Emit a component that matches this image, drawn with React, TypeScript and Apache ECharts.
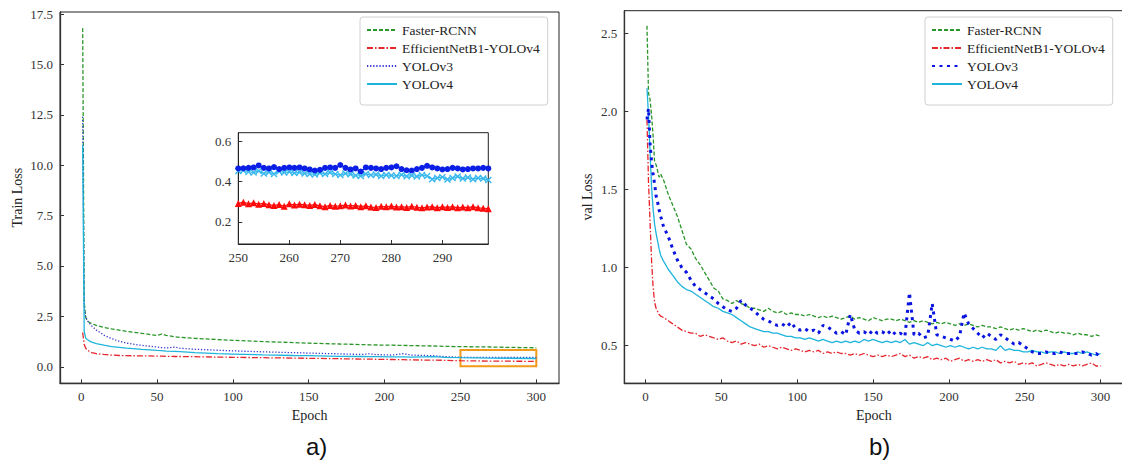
import React, { useEffect, useRef } from "react";
import * as echarts from "echarts";

// ---------- Left chart (train loss) ----------
const trainEpochs = [1, 2, 3, 4, 5, 7, 10, 15, 20, 25, 30, 40, 50, 53, 56, 62, 65, 75, 90, 100, 120, 140, 150, 170, 185, 190, 195, 205, 212, 218, 232, 240, 250, 270, 300];
const trainFaster = [16.8, 3.2, 2.45, 2.3, 2.22, 2.14, 2.05, 1.95, 1.88, 1.82, 1.75, 1.66, 1.55, 1.62, 1.56, 1.48, 1.46, 1.41, 1.35, 1.31, 1.25, 1.2, 1.17, 1.13, 1.1, 1.09, 1.08, 1.07, 1.06, 1.05, 1.03, 1.01, 1.0, 0.98, 0.94];
const trainEffB1 = [1.7, 1.1, 0.92, 0.84, 0.78, 0.7, 0.65, 0.61, 0.58, 0.56, 0.55, 0.54, 0.53, 0.53, 0.52, 0.51, 0.51, 0.5, 0.48, 0.47, 0.45, 0.43, 0.42, 0.4, 0.38, 0.38, 0.37, 0.36, 0.35, 0.34, 0.33, 0.32, 0.3, 0.28, 0.27];
const trainV3 = [12.4, 3.0, 2.45, 2.3, 2.2, 2.02, 1.82, 1.57, 1.4, 1.27, 1.17, 1.06, 0.98, 0.95, 0.93, 0.98, 0.92, 0.87, 0.82, 0.79, 0.74, 0.7, 0.68, 0.64, 0.61, 0.64, 0.6, 0.58, 0.65, 0.58, 0.55, 0.5, 0.47, 0.47, 0.46];
const trainV4 = [11.0, 1.75, 1.42, 1.35, 1.3, 1.22, 1.15, 1.07, 1.0, 0.96, 0.92, 0.86, 0.81, 0.8, 0.78, 0.76, 0.75, 0.7, 0.65, 0.63, 0.59, 0.56, 0.55, 0.52, 0.51, 0.5, 0.5, 0.49, 0.49, 0.48, 0.5, 0.47, 0.45, 0.43, 0.41];

const zoomBoxEpochs = [250, 300];
const zoomBoxLoss = [0.03, 0.83];

// ---------- Inset (epochs 250-299) ----------
const insetEpochs = [
  250, 251, 252, 253, 254, 255, 256, 257, 258, 259,
  260, 261, 262, 263, 264, 265, 266, 267, 268, 269,
  270, 271, 272, 273, 274, 275, 276, 277, 278, 279,
  280, 281, 282, 283, 284, 285, 286, 287, 288, 289,
  290, 291, 292, 293, 294, 295, 296, 297, 298, 299,
];
const insetV3 = [
  0.465, 0.466, 0.468, 0.470, 0.480, 0.468, 0.465, 0.472, 0.462, 0.468,
  0.470, 0.468, 0.470, 0.465, 0.460, 0.455, 0.458, 0.468, 0.470, 0.468,
  0.482, 0.468, 0.460, 0.465, 0.450, 0.470, 0.468, 0.465, 0.462, 0.468,
  0.470, 0.476, 0.462, 0.456, 0.455, 0.462, 0.468, 0.478, 0.470, 0.465,
  0.460, 0.462, 0.468, 0.465, 0.460, 0.462, 0.465, 0.465, 0.468, 0.465,
];
const insetV4 = [
  0.452, 0.455, 0.448, 0.445, 0.452, 0.440, 0.446, 0.438, 0.450, 0.445,
  0.448, 0.442, 0.446, 0.440, 0.438, 0.435, 0.442, 0.438, 0.445, 0.437,
  0.432, 0.440, 0.436, 0.430, 0.428, 0.438, 0.432, 0.435, 0.428, 0.433,
  0.430, 0.428, 0.434, 0.426, 0.430, 0.425, 0.432, 0.428, 0.412, 0.418,
  0.422, 0.410, 0.418, 0.425, 0.415, 0.420, 0.412, 0.418, 0.415, 0.408,
];
const insetEffB1 = [
  0.292, 0.298, 0.290, 0.295, 0.288, 0.292, 0.285, 0.282, 0.286, 0.278,
  0.290, 0.284, 0.288, 0.285, 0.282, 0.286, 0.280, 0.276, 0.282, 0.278,
  0.280, 0.284, 0.279, 0.282, 0.276, 0.280, 0.274, 0.272, 0.278, 0.275,
  0.279, 0.274, 0.276, 0.272, 0.278, 0.273, 0.270, 0.274, 0.276, 0.270,
  0.275, 0.272, 0.276, 0.270, 0.274, 0.271, 0.276, 0.270, 0.268, 0.266,
];

// ---------- Right chart (val loss) ----------
const valEpochs = [
  1, 2, 3, 4, 5, 6, 7, 8, 9, 10,
  12, 15, 18, 21, 24, 27, 30, 33, 36, 39,
  42, 45, 48, 51, 54, 57, 60, 63, 66, 69,
  72, 75, 78, 81, 84, 87, 90, 93, 96, 99,
  102, 105, 108, 111, 114, 117, 120, 123, 126, 129,
  132, 135, 138, 141, 144, 147, 150, 153, 156, 159,
  162, 165, 168, 171, 174, 177, 180, 183, 186, 189,
  192, 195, 198, 201, 204, 207, 210, 213, 216, 219,
  222, 225, 228, 231, 234, 237, 240, 243, 246, 249,
  252, 255, 258, 261, 264, 267, 270, 273, 276, 279,
  282, 285, 288, 291, 294, 297, 300,
];
const valFaster = [
  2.55, 2.12, 2.08, 1.98, 1.85, 1.68, 1.66, 1.62, 1.58, 1.60,
  1.56, 1.47, 1.40, 1.33, 1.24, 1.15, 1.12, 1.06, 1.02, 0.97,
  0.92, 0.87, 0.85, 0.80, 0.79, 0.77, 0.79, 0.77, 0.76, 0.74,
  0.74, 0.73, 0.72, 0.74, 0.72, 0.71, 0.72, 0.70, 0.71, 0.70,
  0.70, 0.69, 0.70, 0.69, 0.68, 0.69, 0.68, 0.69, 0.68, 0.67,
  0.68, 0.69, 0.67, 0.68, 0.67, 0.66, 0.68, 0.67, 0.66, 0.67,
  0.67, 0.66, 0.67, 0.66, 0.65, 0.66, 0.65, 0.66, 0.65, 0.64,
  0.65, 0.64, 0.65, 0.64, 0.63, 0.64, 0.63, 0.64, 0.63, 0.62,
  0.63, 0.62, 0.62, 0.61, 0.62, 0.61, 0.60, 0.61, 0.60, 0.61,
  0.60, 0.59, 0.60, 0.59, 0.60, 0.59, 0.58, 0.59, 0.58, 0.58,
  0.57, 0.58, 0.57, 0.57, 0.56, 0.57, 0.56,
];
const valEffB1 = [
  1.95, 1.55, 1.30, 1.05, 0.88, 0.78, 0.74, 0.72, 0.70, 0.69,
  0.68, 0.66, 0.64, 0.62, 0.60, 0.59, 0.58, 0.58, 0.56, 0.57,
  0.56, 0.55, 0.54, 0.55, 0.53, 0.52, 0.53, 0.51, 0.52, 0.51,
  0.50, 0.51, 0.49, 0.50, 0.49, 0.48, 0.49, 0.48, 0.47, 0.48,
  0.47, 0.46, 0.47, 0.46, 0.47, 0.45, 0.46, 0.45, 0.46, 0.45,
  0.45, 0.44, 0.45, 0.44, 0.45, 0.44, 0.43, 0.44, 0.43, 0.44,
  0.43, 0.44, 0.45, 0.43, 0.44, 0.42, 0.43, 0.42, 0.43, 0.41,
  0.42, 0.41, 0.42, 0.40, 0.41, 0.42, 0.40, 0.41, 0.40, 0.41,
  0.40, 0.41, 0.40, 0.41, 0.39, 0.40, 0.39, 0.40, 0.38, 0.39,
  0.38, 0.39, 0.37, 0.38, 0.39, 0.38, 0.37, 0.38, 0.37, 0.38,
  0.37, 0.38, 0.37, 0.38, 0.39, 0.37, 0.37,
];
const valV3 = [
  1.95, 2.02, 1.80, 1.68, 1.60, 1.54, 1.46, 1.42, 1.37, 1.33,
  1.26, 1.20, 1.12, 1.05, 1.00, 0.97, 0.92, 0.88, 0.86, 0.84,
  0.82, 0.80, 0.77, 0.75, 0.73, 0.72, 0.74, 0.79, 0.76, 0.74,
  0.72, 0.69, 0.67, 0.66, 0.64, 0.63, 0.64, 0.62, 0.65, 0.61,
  0.60, 0.61, 0.59, 0.60, 0.58, 0.63, 0.62, 0.60, 0.58, 0.59,
  0.57, 0.70, 0.60, 0.58, 0.59, 0.57, 0.60, 0.58, 0.59, 0.57,
  0.60, 0.57, 0.58, 0.56, 0.84, 0.57, 0.58, 0.55, 0.56, 0.77,
  0.57, 0.56, 0.55, 0.54, 0.53, 0.56, 0.71, 0.64, 0.61, 0.58,
  0.55, 0.58, 0.56, 0.54, 0.57, 0.55, 0.53, 0.51, 0.52, 0.50,
  0.48, 0.46, 0.45, 0.45, 0.46, 0.45, 0.45, 0.46, 0.45, 0.45,
  0.45, 0.45, 0.46, 0.45, 0.44, 0.45, 0.43,
];
const valV4 = [
  2.15, 1.98, 1.75, 1.52, 1.38, 1.28, 1.22, 1.17, 1.12, 1.08,
  1.04, 0.99, 0.95, 0.91, 0.88, 0.86, 0.85, 0.83, 0.81, 0.79,
  0.77, 0.75, 0.74, 0.72, 0.71, 0.70, 0.68, 0.66, 0.64, 0.62,
  0.61, 0.60, 0.59, 0.59, 0.58, 0.58, 0.57, 0.56, 0.56, 0.55,
  0.55, 0.54, 0.55, 0.54, 0.53, 0.54, 0.53, 0.52, 0.53, 0.52,
  0.53, 0.52, 0.53, 0.52, 0.54, 0.53, 0.54, 0.53, 0.52, 0.53,
  0.52, 0.53, 0.52, 0.54, 0.51, 0.52, 0.51, 0.50, 0.52, 0.50,
  0.51, 0.50, 0.49, 0.50, 0.49, 0.50, 0.49, 0.48, 0.49, 0.48,
  0.49, 0.48, 0.48, 0.47, 0.50, 0.47, 0.48, 0.47, 0.47, 0.46,
  0.46, 0.47, 0.46, 0.46, 0.45, 0.46, 0.46, 0.45, 0.46, 0.45,
  0.45, 0.46, 0.45, 0.46, 0.45, 0.44, 0.45,
];

// ---------- Ticks & labels ----------
const seriesNames = ["Faster-RCNN", "EfficientNetB1-YOLOv4", "YOLOv3", "YOLOv4"];
const epochTicks = [0, 50, 100, 150, 200, 250, 300];
const trainLossTicks = [0, 2.5, 5, 7.5, 10, 12.5, 15, 17.5];
const insetEpochTicks = [250, 260, 270, 280, 290];
const insetLossTicks = [0.2, 0.4, 0.6];
const valLossTicks = [0.5, 1.0, 1.5, 2.0, 2.5];
const panelLabels = ["a)", "b)"];

const SERIF = "'Liberation Serif', 'DejaVu Serif', serif";
const C_GREEN = "#2a962a";
const C_RED = "#e5262c";
const C_BLUE_L = "#3a3ad2";
const C_BLUE_R = "#0a14e0";
const C_CYAN = "#1eb4dc";

const pairs = (xs: number[], ys: number[]) => xs.map((x, i) => [x, ys[i]]);

function valueAxis(
  gridIndex: number,
  min: number,
  max: number,
  ticks: number[],
  decimals: number,
  extra: any = {}
) {
  return {
    type: "value",
    gridIndex,
    min,
    max,
    splitLine: { show: false },
    axisLine: { show: true, onZero: false, lineStyle: { color: "#333", width: 1.3 } },
    axisTick: { show: true, inside: true, length: 4, customValues: ticks, lineStyle: { color: "#333" } },
    axisLabel: {
      customValues: ticks,
      formatter: (v: number) => v.toFixed(decimals),
      fontFamily: SERIF,
      fontSize: 13,
      color: "#333",
      margin: 7,
    },
    ...extra,
  };
}

const nameStyle = { fontFamily: SERIF, fontSize: 14, color: "#222" };

export default function App() {
  const ref = useRef<HTMLDivElement>(null);

  useEffect(() => {
    if (!ref.current) return;
    const chart = echarts.init(ref.current, undefined, { renderer: "svg" });

    const lineSeries = (
      name: string,
      xi: number,
      xs: number[],
      ys: number[],
      color: string,
      width: number,
      type: any,
      extra: any = {}
    ) => ({
      type: "line",
      name,
      xAxisIndex: xi,
      yAxisIndex: xi,
      data: pairs(xs, ys),
      symbol: "none",
      showSymbol: false,
      color,
      lineStyle: { color, width, type },
      emphasis: { disabled: true },
      ...extra,
    });

    const dashed = [4, 2];
    const dashDot = [6, 2, 1.5, 2];

    const legendBase = {
      orient: "vertical",
      top: 17,
      padding: [6, 8, 14, 6],
      itemWidth: 30,
      itemHeight: 14,
      itemGap: 4,
      backgroundColor: "#fff",
      borderColor: "#d0d0d0",
      borderWidth: 1,
      borderRadius: 3,
      selectedMode: false,
      itemStyle: { color: "rgba(0,0,0,0)", borderWidth: 0, opacity: 0 },
      textStyle: { fontFamily: SERIF, fontSize: 13.5, color: "#222", lineHeight: 14 },
    };

    const option: any = {
      animation: false,
      backgroundColor: "#fff",
      grid: [
        { left: 60, top: 12, width: 499, height: 371.3, show: true, borderColor: "#222", borderWidth: 1, backgroundColor: "transparent", outerBoundsMode: "none" },
        { left: 238.3, top: 132.7, width: 250, height: 111.3, show: true, borderColor: "#222", borderWidth: 1, backgroundColor: "#fff", outerBoundsMode: "none" },
        { left: 624.3, top: 10.7, width: 499, height: 372.6, show: true, borderColor: "#222", borderWidth: 1, backgroundColor: "transparent", outerBoundsMode: "none" },
      ],
      xAxis: [
        valueAxis(0, -13.95, 314.95, epochTicks, 0, { name: "Epoch", nameLocation: "middle", nameGap: 22, nameTextStyle: nameStyle }),
        valueAxis(1, 250, 299, insetEpochTicks, 0, { axisLine: { show: true, onZero: false, lineStyle: { color: "#222", width: 1 } } }),
        valueAxis(2, -13.95, 314.95, epochTicks, 0, { name: "Epoch", nameLocation: "middle", nameGap: 22, nameTextStyle: nameStyle }),
      ],
      yAxis: [
        valueAxis(0, -0.82, 17.6, trainLossTicks, 1, { name: "Train Loss", nameLocation: "middle", nameGap: 36, nameTextStyle: nameStyle }),
        valueAxis(1, 0.091, 0.642, insetLossTicks, 1, { axisLine: { show: true, onZero: false, lineStyle: { color: "#222", width: 1 } } }),
        valueAxis(2, 0.259, 2.647, valLossTicks, 1, { name: "val Loss", nameLocation: "middle", nameGap: 30, nameTextStyle: nameStyle }),
      ],
      legend: [
        { ...legendBase, left: 360, data: seriesNames },
        {
          ...legendBase,
          left: 925,
          data: seriesNames.map((n) => "b:" + n),
          formatter: (n: string) => n.replace(/^b:/, ""),
        },
      ],
      series: [
        // left main
        lineSeries(seriesNames[0], 0, trainEpochs, trainFaster, C_GREEN, 1.3, dashed),
        lineSeries(seriesNames[1], 0, trainEpochs, trainEffB1, C_RED, 1.3, dashDot),
        lineSeries(seriesNames[2], 0, trainEpochs, trainV3, C_BLUE_L, 1.3, [1.3, 1.8]),
        lineSeries(seriesNames[3], 0, trainEpochs, trainV4, C_CYAN, 1.3, "solid", {
          markArea: {
            silent: true,
            label: { show: false },
            itemStyle: { color: "rgba(0,0,0,0)", borderColor: "#f29a1a", borderWidth: 2 },
            data: [[{ coord: [zoomBoxEpochs[0], zoomBoxLoss[0]] }, { coord: [zoomBoxEpochs[1], zoomBoxLoss[1]] }]],
          },
        }),
        // inset
        {
          type: "line", name: "inset-effb1", xAxisIndex: 1, yAxisIndex: 1,
          data: pairs(insetEpochs, insetEffB1), symbol: "triangle", symbolSize: 7,
          itemStyle: { color: "#ff0a0a" }, lineStyle: { color: "#ff0a0a", width: 1.2 },
          emphasis: { disabled: true },
        },
        {
          type: "line", name: "inset-v4", xAxisIndex: 1, yAxisIndex: 1,
          data: pairs(insetEpochs, insetV4),
          symbol: "path://M0,1.4L1.4,0L5,3.6L8.6,0L10,1.4L6.4,5L10,8.6L8.6,10L5,6.4L1.4,10L0,8.6L3.6,5Z",
          symbolSize: 7,
          itemStyle: { color: "#38b8ee" }, lineStyle: { color: "#38b8ee", width: 1.2 },
          emphasis: { disabled: true },
        },
        {
          type: "line", name: "inset-v3", xAxisIndex: 1, yAxisIndex: 1,
          data: pairs(insetEpochs, insetV3), symbol: "circle", symbolSize: 6,
          itemStyle: { color: "#0a1ee6" }, lineStyle: { color: "#0a1ee6", width: 1.2 },
          emphasis: { disabled: true },
        },
        // right
        lineSeries("b:" + seriesNames[0], 2, valEpochs, valFaster, C_GREEN, 1.3, dashed),
        lineSeries("b:" + seriesNames[1], 2, valEpochs, valEffB1, C_RED, 1.3, dashDot),
        lineSeries("b:" + seriesNames[3], 2, valEpochs, valV4, C_CYAN, 1.3, "solid"),
        lineSeries("b:" + seriesNames[2], 2, valEpochs, valV3, C_BLUE_R, 3, [3, 4.5], { z: 3 }),
      ],
      graphic: [
        {
          type: "text", left: 306, top: 434,
          style: { text: panelLabels[0], font: "24px 'Liberation Sans', Arial, sans-serif", fill: "#111" },
        },
        {
          type: "text", left: 869, top: 434,
          style: { text: panelLabels[1], font: "24px 'Liberation Sans', Arial, sans-serif", fill: "#111" },
        },
      ],
    };

    chart.setOption(option);
    return () => chart.dispose();
  }, []);

  return (
    <div
      ref={ref}
      style={{ position: "fixed", left: 0, top: 0, width: 1122, height: 463, background: "#fff" }}
    />
  );
}
